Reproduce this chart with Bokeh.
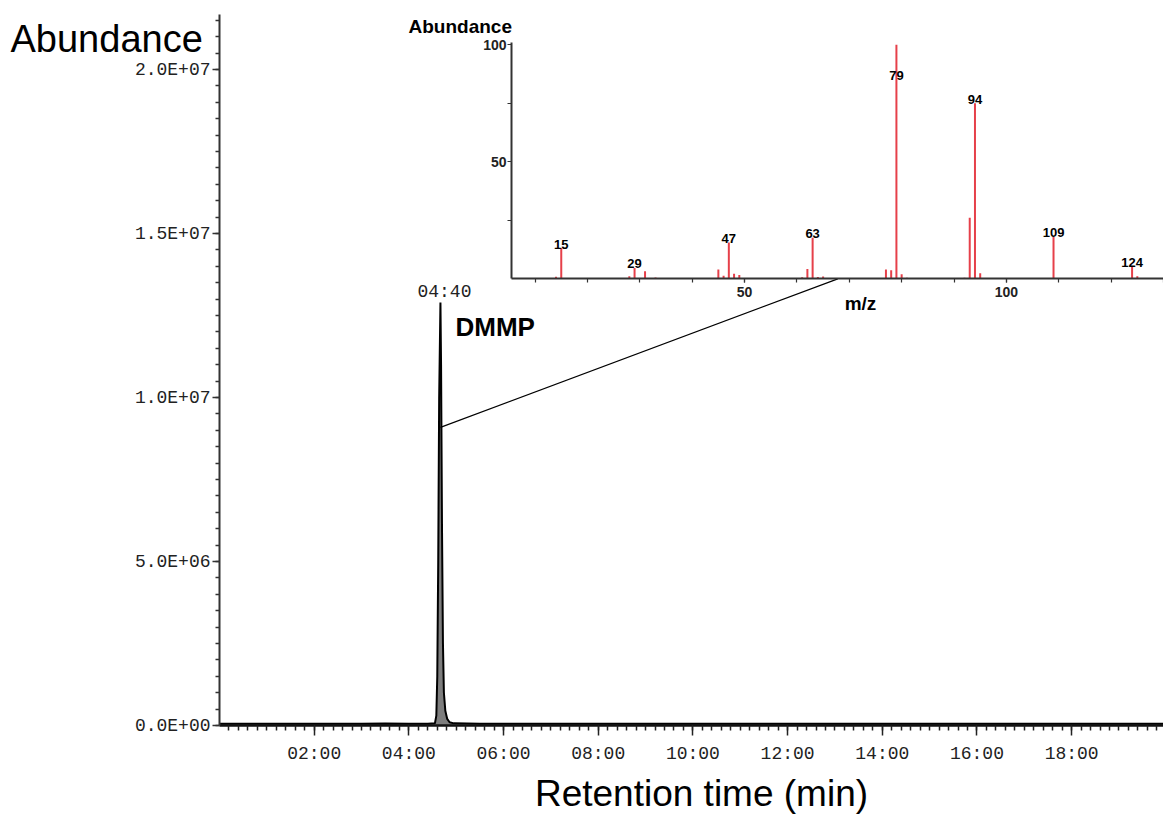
import numpy as np
from bokeh.plotting import figure
from bokeh.models import Range1d, FixedTicker
from bokeh.layouts import column
from bokeh.embed import file_html
from bokeh.resources import INLINE
from bokeh.core.properties import value

# ---------------- chromatogram (TIC) ----------------
rt_min = [0.00, 1.00, 2.00, 3.00, 3.50, 4.00, 4.40, 4.55, 4.58, 4.60, 4.62, 4.64,
          4.667, 4.68, 4.70, 4.72, 4.74, 4.77, 4.81, 4.86, 4.95, 5.50, 6.00, 7.00,
          8.00, 9.00, 10.00, 11.00, 12.00, 13.00, 14.00, 15.00, 16.00, 17.00, 18.00,
          19.00, 19.94]
abundance = [50000, 55000, 50000, 55000, 60000, 55000, 55000, 65000, 300000, 1500000,
             5000000, 10000000, 12900000, 11000000, 6000000, 2500000, 1000000, 450000,
             200000, 100000, 65000, 55000, 50000, 55000, 50000, 55000, 50000, 55000,
             50000, 55000, 50000, 55000, 50000, 55000, 50000, 55000, 50000]

peak_rt = 4.667
peak_abund = 12900000
peak_rt_label = "04:40"
compound = "DMMP"

rt_ticks = [2, 4, 6, 8, 10, 12, 14, 16, 18]
rt_tick_labels = ["02:00", "04:00", "06:00", "08:00", "10:00", "12:00", "14:00", "16:00", "18:00"]
ab_ticks = [0, 5000000, 10000000, 15000000, 20000000]
ab_tick_labels = ["0.0E+00", "5.0E+06", "1.0E+07", "1.5E+07", "2.0E+07"]

# ---------------- mass spectrum (inset) ----------------
mz = [14, 15, 28, 29, 31, 33, 45, 46, 47, 48, 49, 61, 62, 63, 64, 65, 77, 78, 79, 80,
      81, 92, 93, 94, 95, 109, 124, 125]
rel_int = [0.8, 13, 1.0, 4.5, 3.1, 0.4, 3.8, 1.2, 15.4, 2.0, 1.5, 0.5, 4.1, 17.4, 0.6,
           0.9, 3.8, 3.5, 100, 1.8, 0.3, 0.3, 26, 75, 2.3, 17.8, 5.0, 1.0]
labeled_mz = [15, 29, 47, 63, 79, 94, 109, 124]
mz_ticks = [50, 100]
rel_ticks = [50, 100]

# free texts (titles) of the composite figure
titles = ["Abundance", "Retention time (min)", "Abundance", "m/z"]

SANS = "Liberation Sans"
MONO = "Liberation Mono"
RED = "#e6404a"
W, H = 1163, 814
LEFT = 219   # plot frames in the column share this left border

# ---------------- main chromatogram figure ----------------
p = figure(width=W, height=H, x_range=Range1d(0, 19.94), y_range=Range1d(0, 2.168e7),
           output_backend="svg", toolbar_location=None,
           min_border_left=LEFT, min_border_right=0, min_border_top=14, min_border_bottom=89)
p.outline_line_color = None
p.xgrid.visible = False
p.ygrid.visible = False

p.varea(x=rt_min, y1=[0] * len(rt_min), y2=abundance, fill_color="#7d7d7d")
p.line(rt_min, abundance, line_color="black", line_width=2)

xa = p.xaxis[0]
xa.ticker = FixedTicker(ticks=rt_ticks, minor_ticks=[round(0.2 * i, 2) for i in range(1, 100)])
xa.major_label_overrides = dict(zip(rt_ticks, rt_tick_labels))
xa.axis_line_width = 2.5
xa.axis_line_color = "#111111"
xa.major_tick_out = 10
xa.major_tick_in = 0
xa.minor_tick_out = 5
xa.minor_tick_in = 0
xa.major_tick_line_width = 1.5
xa.minor_tick_line_width = 1.5
xa.major_tick_line_color = "#222222"
xa.minor_tick_line_color = "#222222"
xa.major_label_text_font = MONO
xa.major_label_text_font_size = "18px"
xa.major_label_text_color = "#222222"
xa.major_label_standoff = 8

ya = p.yaxis[0]
ya.ticker = FixedTicker(ticks=ab_ticks, minor_ticks=[500000 * i for i in range(0, 45)])
ya.major_label_overrides = dict(zip(ab_ticks, ab_tick_labels))
ya.axis_line_width = 2
ya.axis_line_color = "#333333"
ya.major_tick_out = 7
ya.major_tick_in = 0
ya.minor_tick_out = 4
ya.minor_tick_in = 0
ya.major_tick_line_width = 1.5
ya.minor_tick_line_width = 1.5
ya.major_tick_line_color = "#333333"
ya.minor_tick_line_color = "#333333"
ya.major_label_text_font = MONO
ya.major_label_text_font_size = "18px"
ya.major_label_text_color = "#222222"
ya.major_label_standoff = 2

# peak annotations
p.text(x=[peak_rt], y=[peak_abund], text=[peak_rt_label], text_font=value(MONO),
       text_font_size="18px", text_align="center", text_baseline="bottom",
       text_color="#222222", x_offset=4)
p.text(x=[peak_rt], y=[peak_abund], text=[compound], text_font=value(SANS),
       text_font_style="bold", text_font_size="26px", text_align="left",
       text_baseline="middle", text_color="black", x_offset=15, y_offset=25)

# callout line from the peak to the inset axis
p.segment(x0=[peak_rt], y0=[9.09e6], x1=[13.06], y1=[1.362e7], line_color="black", line_width=1.2)

# ---------------- inset mass spectrum ----------------
INS_X, INS_Y, INS_W, INS_H = 511 - LEFT, 10, W - (511 - LEFT), 303
q = figure(width=INS_W, height=INS_H, x_range=Range1d(5.5, 130), y_range=Range1d(0, 101),
           output_backend="svg", toolbar_location=None,
           min_border_left=LEFT, min_border_right=0, min_border_top=32, min_border_bottom=35,
           background_fill_color=None, border_fill_color=None,
           margin=(INS_Y - H, 0, H - INS_Y - INS_H, INS_X))
q.outline_line_color = None
q.xgrid.visible = False
q.ygrid.visible = False

q.segment(x0=mz, y0=[0] * len(mz), x1=mz, y1=rel_int, line_color=RED, line_width=2)

lab_y = [min(rel_int[mz.index(m)], 85) for m in labeled_mz]
q.text(x=labeled_mz, y=lab_y, text=[str(m) for m in labeled_mz], text_font=value(SANS),
       text_font_style="bold", text_font_size="13px", text_align="center",
       text_baseline="middle", text_color="black", y_offset=-4)

for ax in (q.xaxis[0], q.yaxis[0]):
    ax.axis_line_width = 2
    ax.axis_line_color = "#333333"
    ax.major_tick_out = 4
    ax.major_tick_in = 0
    ax.minor_tick_out = 4
    ax.minor_tick_in = 0
    ax.major_tick_line_color = "#333333"
    ax.minor_tick_line_color = "#333333"
    ax.major_tick_line_width = 1.2
    ax.minor_tick_line_width = 1.2
    ax.major_label_text_font = SANS
    ax.major_label_text_font_style = "bold"
    ax.major_label_text_font_size = "14px"
    ax.major_label_text_color = "#222222"

q.xaxis[0].ticker = FixedTicker(ticks=mz_ticks, minor_ticks=list(range(10, 131, 10)))
q.xaxis[0].major_label_standoff = 4
q.yaxis[0].ticker = FixedTicker(ticks=rel_ticks, minor_ticks=[25, 75])
q.yaxis[0].major_label_standoff = 1


def overlay(x0, y0, w, h):
    """Transparent, axis-less figure whose frame covers page pixels [x0, x0+w] x [y0, y0+h]."""
    f = figure(width=w + LEFT, height=h, x_range=Range1d(x0, x0 + w), y_range=Range1d(y0 + h, y0),
               x_axis_type=None, y_axis_type=None, output_backend="svg", toolbar_location=None,
               min_border_left=LEFT, min_border_right=0, min_border_top=0, min_border_bottom=0,
               background_fill_color=None, border_fill_color=None,
               margin=(y0 - H, 0, H - y0 - h, x0 - LEFT))
    f.outline_line_color = None
    f.grid.visible = False
    return f


# overlay A: titles right of the main y axis (page pixel coordinates)
oa = overlay(LEFT, 0, W - LEFT, H)
oa.text(x=[701], y=[793], text=[titles[1]], text_font=value(SANS), text_font_size="37px",
        text_align="center", text_baseline="middle", text_color="black")
oa.text(x=[408], y=[26], text=[titles[2]], text_font=value(SANS), text_font_style="bold",
        text_font_size="19px", text_align="left", text_baseline="middle", text_color="black")
oa.text(x=[860], y=[303], text=[titles[3]], text_font=value(SANS), text_font_style="bold",
        text_font_size="19px", text_align="center", text_baseline="middle", text_color="black")

# overlay B: the main y-axis title, left of the axis
ob = overlay(4, 8, 212, 60)
ob.text(x=[10], y=[38], text=[titles[0]], text_font=value(SANS), text_font_size="38px",
        text_align="left", text_baseline="middle", text_color="black")

layout = column(p, q, oa, ob)
open("out.html", "w").write(file_html(layout, INLINE))
